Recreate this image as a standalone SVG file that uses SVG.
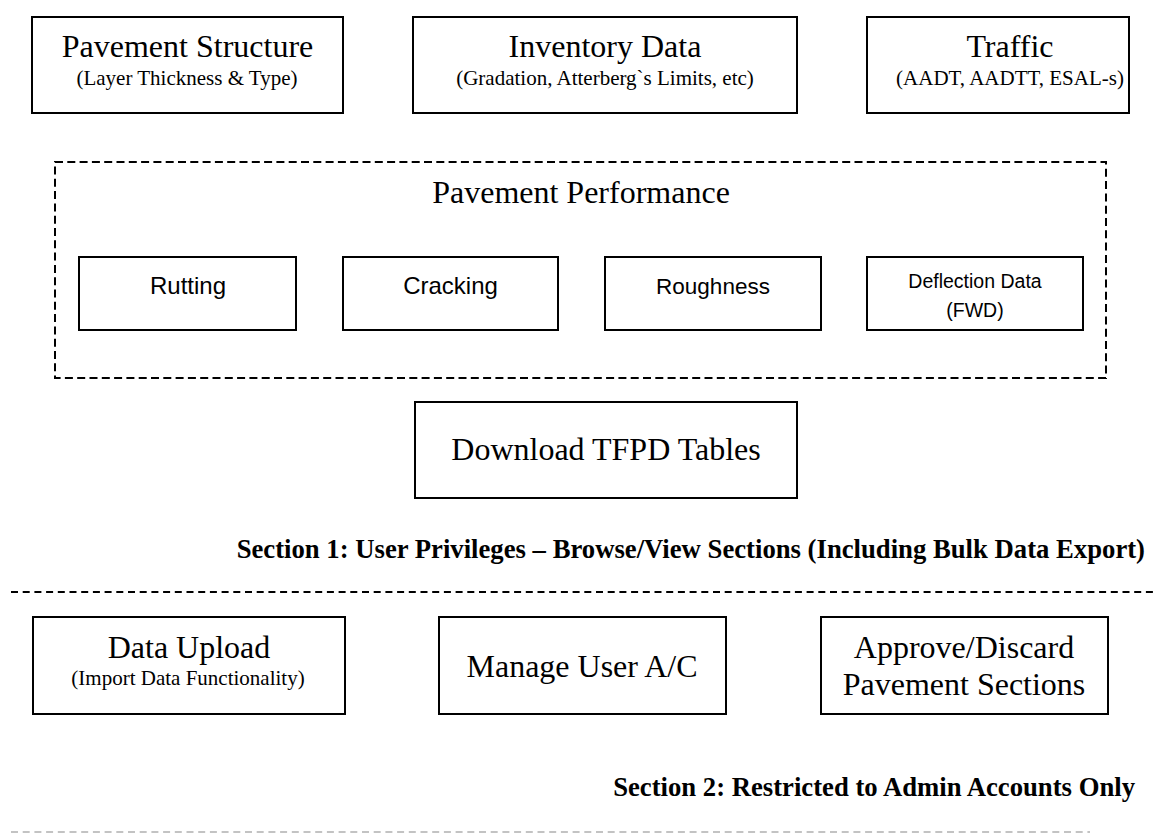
<svg xmlns="http://www.w3.org/2000/svg" width="1156" height="833" viewBox="0 0 1156 833">
<style>
.box{fill:#fff;stroke:#000;stroke-width:2}
.t{font-family:"Liberation Serif","Times New Roman",serif;fill:#000;text-anchor:middle}
.big{font-size:32px}
.sub{font-size:21px}
.s{font-family:"Liberation Sans",Arial,sans-serif;fill:#000;text-anchor:middle}
.sec{font-family:"Liberation Serif","Times New Roman",serif;font-weight:bold;font-size:26.7px;fill:#000;text-anchor:end}
.dash{fill:none;stroke:#000;stroke-width:2;stroke-dasharray:8 4.3}
</style>
<rect width="1156" height="833" fill="#fff"/>
<g id="pavement-structure">
<rect class="box" x="32" y="17" width="311" height="96"/>
<text class="t big" x="187.5" y="57">Pavement Structure</text>
<text class="t sub" x="187" y="85">(Layer Thickness &amp; Type)</text>
</g>
<g id="inventory-data">
<rect class="box" x="413" y="17" width="384" height="96"/>
<text class="t big" x="605" y="57">Inventory Data</text>
<text class="t sub" x="605" y="85">(Gradation, Atterberg`s Limits, etc)</text>
</g>
<g id="traffic">
<rect class="box" x="867" y="17" width="262" height="96"/>
<text class="t big" x="1010" y="57">Traffic</text>
<text class="t sub" x="1010" y="85">(AADT, AADTT, ESAL-s)</text>
</g>
<g id="pavement-performance">
<rect class="dash" x="55" y="162" width="1051" height="216"/>
<text class="t big" x="581" y="203">Pavement Performance</text>
</g>
<g id="rutting">
<rect class="box" x="79" y="257" width="217" height="73"/>
<text class="s" x="188" y="294" font-size="24">Rutting</text>
</g>
<g id="cracking">
<rect class="box" x="343" y="257" width="215" height="73"/>
<text class="s" x="450.5" y="294" font-size="24">Cracking</text>
</g>
<g id="roughness">
<rect class="box" x="605" y="257" width="216" height="73"/>
<text class="s" x="713" y="294" font-size="22.5">Roughness</text>
</g>
<g id="deflection-data">
<rect class="box" x="867" y="257" width="216" height="73"/>
<text class="s" x="975" y="288" font-size="19.5">Deflection Data</text>
<text class="s" x="975" y="317" font-size="19.5">(FWD)</text>
</g>
<g id="download-tfpd">
<rect class="box" x="415" y="402" width="382" height="96"/>
<text class="t big" x="606" y="460">Download TFPD Tables</text>
</g>
<g id="section-1-label">
<text class="sec" x="1145" y="558">Section 1: User Privileges – Browse/View Sections (Including Bulk Data Export)</text>
</g>
<g id="connectors">
<line x1="11" y1="592" x2="1156" y2="592" stroke="#000" stroke-width="2" stroke-dasharray="7 4.7"/>
<line x1="11" y1="832" x2="1090" y2="832" stroke="#b0b0b0" stroke-width="1.5" stroke-dasharray="7 4.7"/>
</g>
<g id="data-upload">
<rect class="box" x="33" y="617" width="312" height="97"/>
<text class="t big" x="189" y="658">Data Upload</text>
<text class="t sub" x="188" y="685">(Import Data Functionality)</text>
</g>
<g id="manage-user">
<rect class="box" x="439" y="617" width="287" height="97"/>
<text class="t big" x="582" y="677">Manage User A/C</text>
</g>
<g id="approve-discard">
<rect class="box" x="821" y="617" width="287" height="97"/>
<text class="t big" x="964" y="658">Approve/Discard</text>
<text class="t big" x="964" y="695">Pavement Sections</text>
</g>
<g id="section-2-label">
<text class="sec" x="1135" y="796">Section 2: Restricted to Admin Accounts Only</text>
</g>
</svg>
